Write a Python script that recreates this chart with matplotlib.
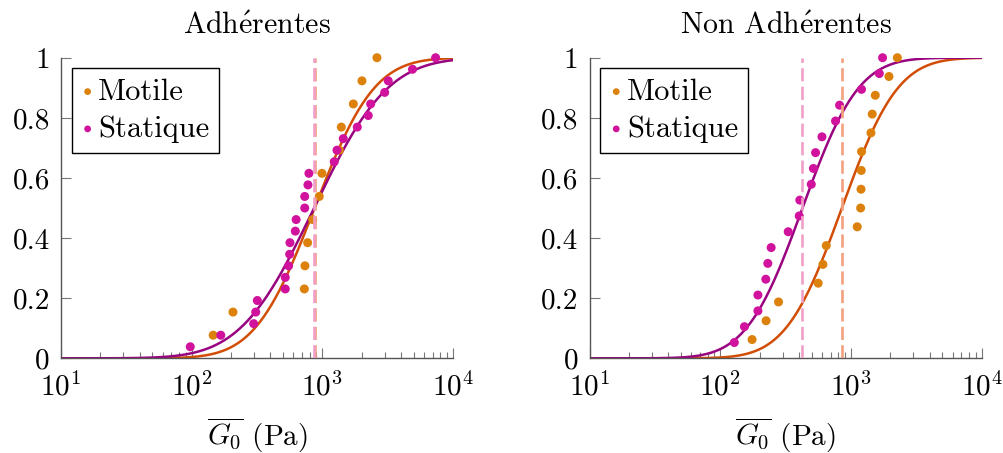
import math
import numpy as np
import matplotlib
matplotlib.use('Agg')
import matplotlib.pyplot as plt
from matplotlib.ticker import FixedLocator, FuncFormatter, LogLocator

plt.rcParams['font.family'] = ['cmr10', 'DejaVu Serif']
plt.rcParams['mathtext.fontset'] = 'cm'
plt.rcParams['axes.formatter.use_mathtext'] = True

# G0 (Pa)
adh_motile = [146, 207, 728, 736, 771, 843, 947, 993, 1349, 1397, 1726, 2010, 2618]
adh_statique = [97.5, 167, 298, 309, 318, 520, 520, 552, 562, 565, 621, 630, 733,
                733, 776, 789, 1233, 1294, 1446, 1851, 2245, 2343, 3000, 3194, 4898, 7360]
nonadh_motile = [175, 224, 279, 561, 610, 647, 1117, 1186, 1194, 1199, 1205, 1422,
                 1455, 1535, 1954, 2265]
nonadh_statique = [128, 153, 194, 194, 223, 231, 245, 331, 402, 406, 497, 516, 536,
                   600, 762, 818, 1205, 1648, 1746]

# é écrit en mathtext (cmr10 n'a pas le glyphe)
titles = [r'Adh$\acute{\mathrm{e}}$rentes', r'Non Adh$\acute{\mathrm{e}}$rentes']
labels = ['Motile', 'Statique']

col_pts = {'Motile': '#dc820c', 'Statique': '#d0129c'}
col_fit = {'Motile': '#d24e06', 'Statique': '#990480'}
col_mean = {'Motile': '#f4a07e', 'Statique': '#f0a0c8'}

erf = np.vectorize(math.erf)


def lognorm_cdf(x, mu, sigma):
    return 0.5 * (1 + erf((np.log10(x) - mu) / (sigma * math.sqrt(2))))


def draw_panel(ax, title, groups):
    xs = np.logspace(1, 4, 400)
    for name, vals in groups:
        v = np.sort(np.array(vals, dtype=float))
        ecdf = np.arange(1, len(v) + 1) / len(v)
        lv = np.log10(v)
        mu, sd = lv.mean(), lv.std(ddof=1)
        ax.plot(xs, lognorm_cdf(xs, mu, sd), color=col_fit[name], lw=1.8, zorder=2)
        ax.scatter(v, ecdf, s=42, color=col_pts[name], edgecolors='none',
                   label=name, zorder=3, clip_on=False)
        ax.axvline(10 ** mu, color=col_mean[name], lw=1.9, ls=(0, (5, 2)), zorder=4)

    ax.set_xscale('log')
    ax.set_xlim(10, 1e4)
    ax.set_ylim(0, 1)
    ax.spines['top'].set_visible(False)
    ax.spines['right'].set_visible(False)
    for s in ['left', 'bottom']:
        ax.spines[s].set_color('#555555')
        ax.spines[s].set_linewidth(1.0)
    ax.xaxis.set_major_locator(LogLocator(base=10, numticks=10))
    ax.xaxis.set_minor_locator(LogLocator(base=10, subs=np.arange(2, 10), numticks=20))
    ax.yaxis.set_major_locator(FixedLocator([0, 0.2, 0.4, 0.6, 0.8, 1.0]))
    ax.yaxis.set_major_formatter(FuncFormatter(lambda y, p: '%g' % y))
    ax.tick_params(axis='both', which='major', direction='in', length=7, width=0.8,
                   color='#777777', labelsize=21)
    ax.tick_params(axis='y', which='major', pad=8)
    ax.tick_params(axis='x', which='major', pad=10)
    ax.tick_params(axis='x', which='minor', direction='in', length=4.3, width=0.8,
                   color='#777777')
    ax.set_title(title, fontsize=21.5, pad=17)
    ax.set_xlabel(r'$\overline{G_0}$ (Pa)', fontsize=21, labelpad=10)
    leg = ax.legend(loc='upper left', fontsize=22, frameon=True, fancybox=False,
                    handletextpad=0.15, borderpad=0.32, labelspacing=0.32,
                    handlelength=0.4, borderaxespad=0.35, markerscale=0.75)
    leg.get_frame().set_edgecolor('black')
    leg.get_frame().set_linewidth(1.0)
    leg.get_frame().set_alpha(1)


fig = plt.figure(figsize=(10.04, 4.53), dpi=100)
ax1 = fig.add_axes([0.0608, 0.209, 0.3904, 0.6636])
ax2 = fig.add_axes([0.5873, 0.209, 0.3904, 0.6636])

draw_panel(ax1, titles[0], [('Motile', adh_motile), ('Statique', adh_statique)])
draw_panel(ax2, titles[1], [('Motile', nonadh_motile), ('Statique', nonadh_statique)])

fig.savefig('out.png', dpi=100)
